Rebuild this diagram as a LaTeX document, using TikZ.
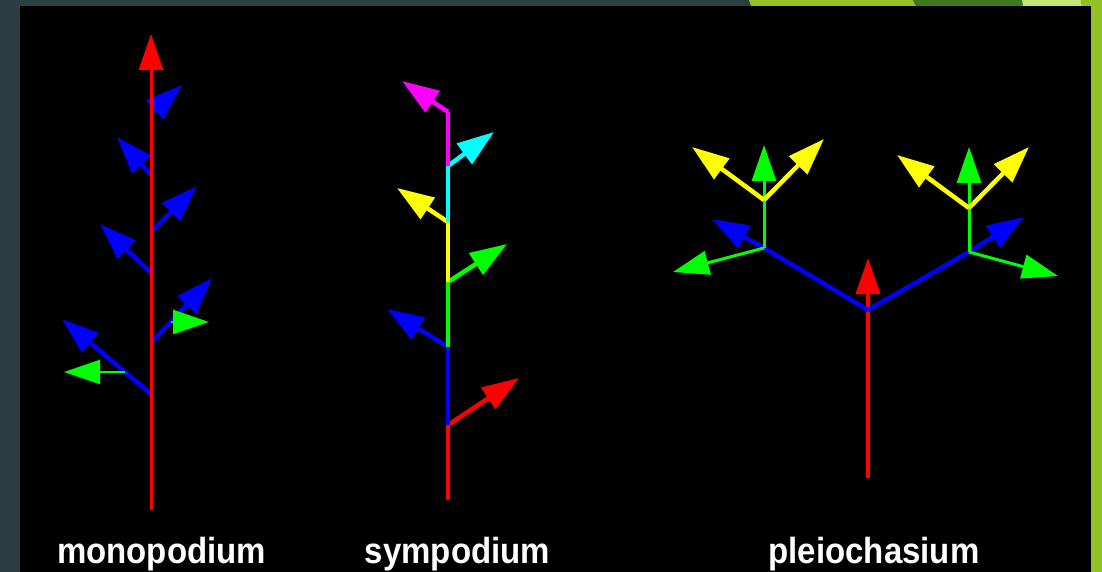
\documentclass[tikz,border=0pt]{standalone}
\usepackage{fontspec}
\setmainfont{Liberation Sans}
\usetikzlibrary{arrows.meta,calc}
\definecolor{slate}{HTML}{2C3D44}
\definecolor{leaf}{HTML}{93C225}
\definecolor{darkleaf}{HTML}{3F7A1D}
\definecolor{paleleaf}{HTML}{C3E571}
\definecolor{pred}{RGB}{255,0,0}
\definecolor{pblue}{RGB}{0,0,255}
\definecolor{pgreen}{RGB}{0,255,0}
\definecolor{pyellow}{RGB}{255,255,0}
\definecolor{pcyan}{RGB}{0,255,255}
\definecolor{pmagenta}{RGB}{255,0,255}
\begin{document}
\begin{tikzpicture}[x=1pt,y=-1pt,line join=round,
  axisline/.style={line width=3.5pt},
  shoot/.style={line width=4.5pt,-{Triangle[length=37pt,width=25pt]}},
  thinshoot/.style={line width=2.5pt,-{Triangle[length=36pt,width=24pt]}},
  toptip/.style={-{Triangle[length=36pt,width=24pt]}},
  caption/.style={text=white,inner sep=0pt,anchor=base,
    font=\fontsize{33}{33}\selectfont\bfseries}]
\useasboundingbox (0,0) rectangle (1102,572);

% frame and panel
\fill[slate] (0,0) rectangle (1102,572);
\fill[black] (20,6) rectangle (1091,572);
\fill[leaf] (749,0) -- (913,0) -- (916,6) -- (751,6) -- cycle;
\fill[darkleaf] (913,0) -- (1022,0) -- (1023,6) -- (916,6) -- cycle;
\fill[paleleaf] (1022,0) -- (1081,0) -- (1082,6) -- (1023,6) -- cycle;
\fill[leaf] (1081,0) -- (1102,0) -- (1102,6) -- (1082,6) -- cycle;
\fill[leaf] (1091,0) rectangle (1102,572);

% ---------- monopodium ----------
\coordinate (m0) at (151,510);
\coordinate (mtop) at (151,34);
\coordinate (mb1) at (151,113);  \coordinate (mt1) at (182,85);
\coordinate (mb2) at (151,175);  \coordinate (mt2) at (117,137);
\coordinate (mb3) at (151,232);  \coordinate (mt3) at (197,186);
\coordinate (mb4) at (151,273);  \coordinate (mt4) at (100,224);
\coordinate (mb5) at (151,343);  \coordinate (mt5) at (212,278);
\coordinate (mb6) at (151,394);  \coordinate (mt6) at (62,319);
\coordinate (mg1) at ($(mb5)!0.32!(mt5)$);  \coordinate (mgt1) at (209,322);
\coordinate (mg2) at ($(mb6)!0.29!(mt6)$);  \coordinate (mgt2) at (64,372);

\draw[shoot,pblue] (mb1) -- (mt1);
\draw[shoot,pblue] (mb2) -- (mt2);
\draw[shoot,pblue] (mb3) -- (mt3);
\draw[shoot,pblue] (mb4) -- (mt4);
\draw[shoot,pblue] (mb5) -- (mt5);
\draw[shoot,pblue] (mb6) -- (mt6);
\draw[thinshoot,pgreen] (mg1 |- mgt1) -- (mgt1);
\draw[thinshoot,pgreen] (mg2 |- mgt2) -- (mgt2);
\draw[line width=3pt,pred,toptip] (m0) -- (mtop);

% ---------- sympodium ----------
\coordinate (s0) at (448,500);
\coordinate (sr) at (448,425);  \coordinate (srt) at (519,378);
\coordinate (sb) at (448,347);  \coordinate (sbt) at (387,309);
\coordinate (sg) at (448,282);  \coordinate (sgt) at (507,244);
\coordinate (sy) at (448,222);  \coordinate (syt) at (397,188);
\coordinate (sc) at (448,166);  \coordinate (sct) at (494,132);
\coordinate (sm) at (448,112);  \coordinate (smt) at (402,81);

\draw[axisline,pred] (s0) -- (sr);
\draw[shoot,pred] (sr) -- (srt);
\draw[axisline,pblue] (sr) -- (sb);
\draw[shoot,pblue] (sb) -- (sbt);
\draw[axisline,pgreen] (sb) -- (sg);
\draw[shoot,pgreen] (sg) -- (sgt);
\draw[axisline,pyellow] (sg) -- (sy);
\draw[shoot,pyellow] (sy) -- (syt);
\draw[axisline,pcyan] (sy) -- (sc);
\draw[shoot,pcyan] (sc) -- (sct);
\draw[axisline,pmagenta] (sc) -- (sm);
\draw[shoot,pmagenta] (sm) -- (smt);

% ---------- pleiochasium ----------
\coordinate (p0) at (868,478);
\coordinate (pc) at (868,310);  \coordinate (pct) at (868,258);
\coordinate (pl) at (764,248);  \coordinate (plb) at (712,219);
\coordinate (ply) at (764,200);  \coordinate (plv) at (764,145);
\coordinate (plg) at (673,272);
\coordinate (plya) at (692,147);  \coordinate (plyb) at (824,139);
\coordinate (pr) at (969,252);  \coordinate (prb) at (1024,217);
\coordinate (pry) at (969,208);  \coordinate (prv) at (969,147);
\coordinate (prg) at (1058,276);
\coordinate (prya) at (897,155);  \coordinate (pryb) at (1029,147);

\draw[line width=3.5pt,pred,toptip] (p0) -- (pct);
\draw[axisline,pblue,line width=4.5pt] (pc) -- (pl);
\draw[axisline,pblue,line width=4.5pt] (pc) -- (pr);
\draw[shoot,pblue] (pl) -- (plb);
\draw[shoot,pblue] (pr) -- (prb);
\draw[thinshoot,pgreen,line width=3pt] (pl) -- (plg);
\draw[thinshoot,pgreen,line width=3pt] (pr) -- (prg);
\draw[thinshoot,pgreen,line width=3pt] (pl) -- (plv);
\draw[thinshoot,pgreen,line width=3pt] (pr) -- (prv);
\draw[shoot,pyellow] (ply) -- (plya);
\draw[shoot,pyellow] (ply) -- (plyb);
\draw[shoot,pyellow] (pry) -- (prya);
\draw[shoot,pyellow] (pry) -- (pryb);

% ---------- captions ----------
\node[caption] (capm) at (161.5,563) {\scalebox{1}[1.1]{monopodium}};
\node[caption] (caps) at (457.5,563) {\scalebox{1}[1.1]{sympodium}};
\node[caption] (capp) at (874,563) {\scalebox{1}[1.1]{pleiochasium}};
\end{tikzpicture}
\end{document}
